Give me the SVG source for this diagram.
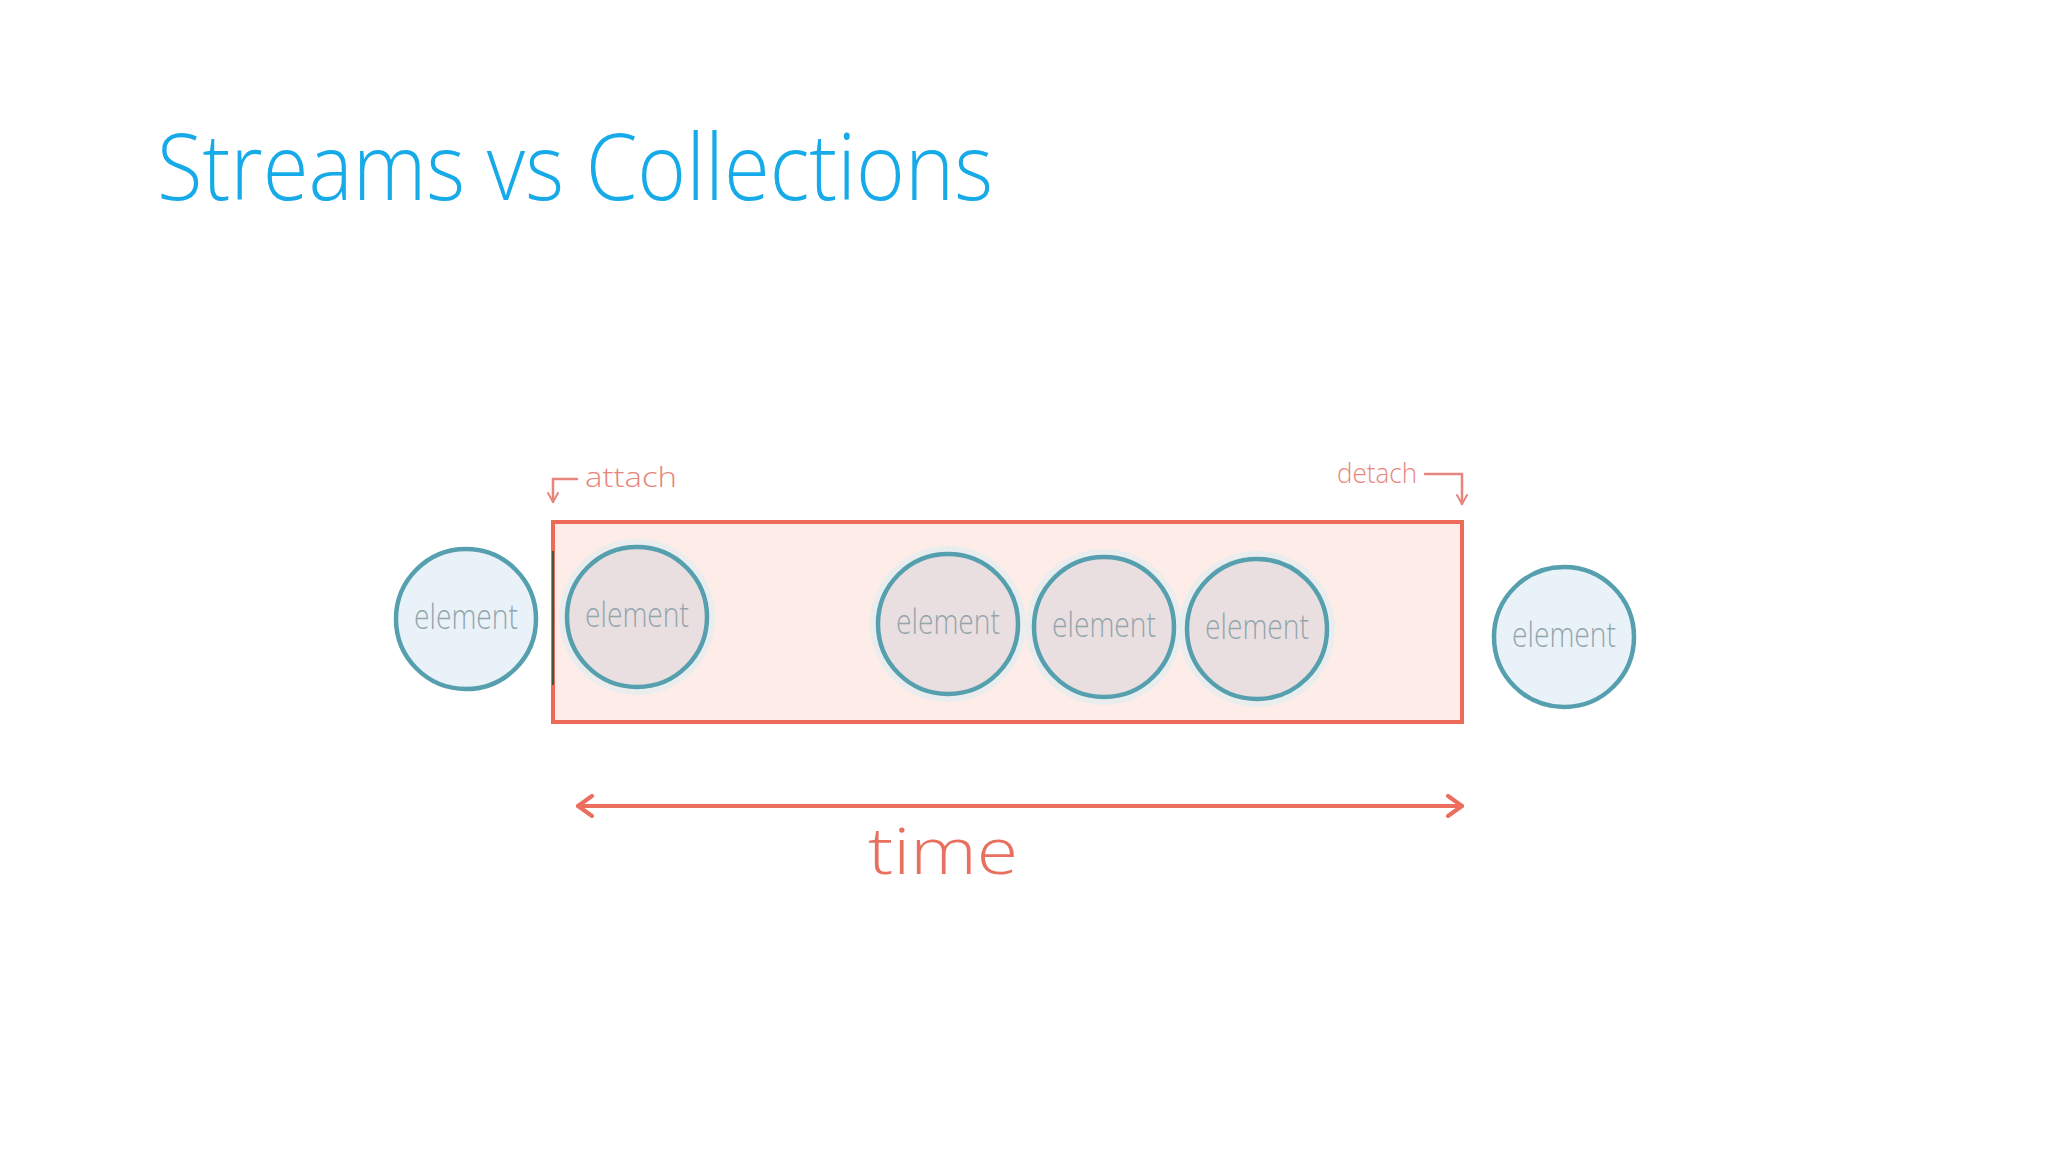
<svg xmlns="http://www.w3.org/2000/svg" width="2048" height="1152" viewBox="0 0 2048 1152">
  <defs>
    <style>
      .title { font-family: "Open Sans", "Liberation Sans", sans-serif; font-weight: 300; font-size: 92px; fill: #16ABE8; }
      .circle-out { fill: #E9F2F8; stroke: #559FAE; stroke-width: 4.5; }
      .circle-in { fill: #EADFE0; stroke: #559FAE; stroke-width: 4.5; }
      .halo { fill: none; stroke: #DDEFF2; stroke-width: 8; opacity: 0.6; }
      .elabel { font-family: "Open Sans", "Liberation Sans", sans-serif; font-weight: 300; font-size: 34px; fill: #93A6AD; text-anchor: middle; }
      .note { font-family: "Open Sans", "Liberation Sans", sans-serif; font-weight: 300; font-size: 28px; fill: #E8857C; }
      .note-line { fill: none; stroke: #E8857C; stroke-width: 2.5; stroke-linecap: round; stroke-linejoin: round; }
      .time-line { fill: none; stroke: #EC6E5E; stroke-width: 4; stroke-linecap: round; stroke-linejoin: round; }
      .time-label { font-family: "Open Sans", "Liberation Sans", sans-serif; font-weight: 300; font-size: 64px; fill: #E8705F; }
    </style>
    <marker id="chev" viewBox="0 0 12 12" refX="10" refY="6" markerWidth="12" markerHeight="12" markerUnits="userSpaceOnUse" orient="auto-start-reverse">
      <path d="M1,1 L10,6 L1,11" fill="none" stroke="#E8857C" stroke-width="2" stroke-linecap="round" stroke-linejoin="round"/>
    </marker>
    <marker id="chevT" viewBox="0 0 20 24" refX="17" refY="12" markerWidth="20" markerHeight="24" markerUnits="userSpaceOnUse" orient="auto-start-reverse">
      <path d="M3,2 L17,12 L3,22" fill="none" stroke="#EC6E5E" stroke-width="4" stroke-linecap="round" stroke-linejoin="round"/>
    </marker>
  </defs>

  <rect width="2048" height="1152" fill="#FFFFFF"/>

  <text class="title" x="157" y="200" textLength="836" lengthAdjust="spacingAndGlyphs">Streams vs Collections</text>

  <g id="stream-window">
    <rect x="553" y="522" width="909" height="200" fill="#FDECE8" stroke="#EE6A58" stroke-width="4"/>
    <line x1="553" y1="551" x2="553" y2="685" stroke="#3C5A45" stroke-width="2"/>
  </g>

  <g id="connectors">
    <g id="attach-arrow">
      <path class="note-line" d="M577,479 L553,479 L553,502" marker-end="url(#chev)"/>
    </g>
    <g id="detach-arrow">
      <path class="note-line" d="M1425,474 L1462,474 L1462,504" marker-end="url(#chev)"/>
    </g>
    <g id="time-arrow">
      <line class="time-line" x1="578" y1="806" x2="1462" y2="806" marker-start="url(#chevT)" marker-end="url(#chevT)"/>
    </g>
  </g>

  <g id="label-attach"><text class="note" x="585" y="487" textLength="92" lengthAdjust="spacingAndGlyphs">attach</text></g>
  <g id="label-detach"><text class="note" x="1337" y="483" textLength="80" lengthAdjust="spacingAndGlyphs">detach</text></g>
  <g id="label-time"><text class="time-label" x="868" y="874" textLength="150" lengthAdjust="spacingAndGlyphs">time</text></g>

  <g id="element-1">
    <circle class="circle-out" cx="466" cy="619" r="70"/>
    <text class="elabel" x="466" y="629" textLength="104" lengthAdjust="spacingAndGlyphs">element</text>
  </g>
  <g id="element-2">
    <circle class="halo" cx="637" cy="617" r="74"/>
    <circle class="circle-in" cx="637" cy="617" r="70"/>
    <text class="elabel" x="637" y="627" textLength="104" lengthAdjust="spacingAndGlyphs">element</text>
  </g>
  <g id="element-3">
    <circle class="halo" cx="948" cy="624" r="74"/>
    <circle class="circle-in" cx="948" cy="624" r="70"/>
    <text class="elabel" x="948" y="634" textLength="104" lengthAdjust="spacingAndGlyphs">element</text>
  </g>
  <g id="element-4">
    <circle class="halo" cx="1104" cy="627" r="74"/>
    <circle class="circle-in" cx="1104" cy="627" r="70"/>
    <text class="elabel" x="1104" y="637" textLength="104" lengthAdjust="spacingAndGlyphs">element</text>
  </g>
  <g id="element-5">
    <circle class="halo" cx="1257" cy="629" r="74"/>
    <circle class="circle-in" cx="1257" cy="629" r="70"/>
    <text class="elabel" x="1257" y="639" textLength="104" lengthAdjust="spacingAndGlyphs">element</text>
  </g>
  <g id="element-6">
    <circle class="circle-out" cx="1564" cy="637" r="70"/>
    <text class="elabel" x="1564" y="647" textLength="104" lengthAdjust="spacingAndGlyphs">element</text>
  </g>
</svg>
